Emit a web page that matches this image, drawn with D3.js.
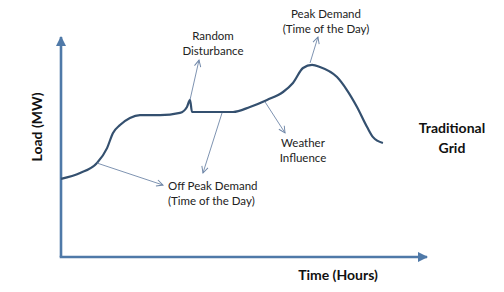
<!DOCTYPE html>
<html>
<head>
<meta charset="utf-8">
<script src="https://cdn.jsdelivr.net/npm/d3@7"></script>
<style>
  body { margin: 0; background: #fff; }
  text { font-family: Lato, "Liberation Sans", sans-serif; }
</style>
</head>
<body>
<svg id="chart" width="504" height="292"></svg>
<script>
// load curve (hours, load in % of axis height)
var hours = [0, 1.25, 2.36, 3.02, 3.41, 3.87, 4.52, 5.18, 6.49, 7.8, 8.26, 8.46, 8.59, 11.28, 12.39, 13.51, 14.56, 15.21, 15.87, 16.46, 16.98, 18.1, 18.75, 19.41, 20.07, 20.46, 21.11];
var load  = [35.5, 38.2, 42.7, 49.5, 56.4, 60, 63.2, 64.5, 64.5, 65.5, 68.2, 71.4, 65.9, 65.9, 68.2, 71.4, 75, 79.1, 85.9, 87.3, 86.4, 81.8, 75.9, 68.2, 59.1, 54.5, 51.8];

// annotation arrows: from a point on the curve to the label
var noteNames = ["Random Disturbance", "Peak Demand", "Weather Influence", "Off Peak Demand", "Off Peak Demand (flat)"];
var noteFrom  = [[8.46, 71.4], [16.33, 88.2], [13.38, 70.5], [2.36, 42.7], [10.56, 65.5]];
var noteTo    = [[9.05, 89.5], [16.85, 100], [14.69, 56.4], [6.69, 32.7], [9.31, 38.2]];

var axisTitles = ["Load (MW)", "Time (Hours)"];
var sideLabel = ["Traditional", "Grid"];

var svg = d3.select("#chart");

var x = d3.scaleLinear().domain([0, 24]).range([61, 427]);
var y = d3.scaleLinear().domain([0, 100]).range([257, 37]);

var defs = svg.append("defs");
defs.append("marker")
  .attr("id", "axisHead")
  .attr("viewBox", "0 0 10 10")
  .attr("refX", 9).attr("refY", 5)
  .attr("markerWidth", 4).attr("markerHeight", 4)
  .attr("markerUnits", "strokeWidth")
  .attr("orient", "auto")
  .append("path")
  .attr("d", "M0,0 L10,5 L0,10 Z")
  .attr("fill", "#4f79a8");

defs.append("marker")
  .attr("id", "noteHead")
  .attr("viewBox", "0 0 10 10")
  .attr("refX", 9).attr("refY", 5)
  .attr("markerWidth", 8).attr("markerHeight", 8)
  .attr("markerUnits", "userSpaceOnUse")
  .attr("orient", "auto")
  .append("path")
  .attr("d", "M1,1 L9,5 L1,9")
  .attr("fill", "none")
  .attr("stroke", "#6f87a8")
  .attr("stroke-width", 1.2);

// axes
svg.append("line")
  .attr("x1", x(0)).attr("y1", y(0))
  .attr("x2", x(0)).attr("y2", y(100))
  .attr("stroke", "#4f79a8").attr("stroke-width", 2.6)
  .attr("marker-end", "url(#axisHead)");
svg.append("line")
  .attr("x1", x(0) - 1.3).attr("y1", y(0))
  .attr("x2", x(24)).attr("y2", y(0))
  .attr("stroke", "#4f79a8").attr("stroke-width", 2.6)
  .attr("marker-end", "url(#axisHead)");

// load curve
var pts = hours.map(function(h, i){ return [h, load[i]]; });
var line = d3.line()
  .x(function(d){ return x(d[0]); })
  .y(function(d){ return y(d[1]); })
  .curve(d3.curveMonotoneX);

svg.append("path")
  .datum(pts)
  .attr("d", line)
  .attr("fill", "none")
  .attr("stroke", "#34506f")
  .attr("stroke-width", 2.2)
  .attr("stroke-linejoin", "round");

// annotation arrows
svg.selectAll("line.note")
  .data(noteNames)
  .enter().append("line")
  .attr("class", "note")
  .attr("x1", function(d, i){ return x(noteFrom[i][0]); })
  .attr("y1", function(d, i){ return y(noteFrom[i][1]); })
  .attr("x2", function(d, i){ return x(noteTo[i][0]); })
  .attr("y2", function(d, i){ return y(noteTo[i][1]); })
  .attr("stroke", "#6f87a8")
  .attr("stroke-width", 0.9)
  .attr("marker-end", "url(#noteHead)");

// annotation labels
var notes = [
  {lines: ["Random", "Disturbance"], x: 213, y: 40, anchor: "middle"},
  {lines: ["Peak Demand", "(Time of the Day)"], x: 326, y: 18, anchor: "middle"},
  {lines: ["Weather", "Influence"], x: 303, y: 147, anchor: "middle"},
  {lines: ["Off Peak Demand", "(Time of the Day)"], x: 168, y: 190, anchor: "start"}
];
notes.forEach(function(n){
  var t = svg.append("text")
    .attr("x", n.x).attr("y", n.y)
    .attr("text-anchor", n.anchor)
    .attr("font-size", 11.5)
    .attr("fill", "#222");
  n.lines.forEach(function(l, i){
    t.append("tspan").attr("x", n.x).attr("dy", i ? 15 : 0).text(l);
  });
});

// side label
var side = svg.append("text")
  .attr("x", 452).attr("y", 133)
  .attr("text-anchor", "middle")
  .attr("font-size", 14)
  .attr("font-weight", "bold")
  .attr("fill", "#111");
sideLabel.forEach(function(l, i){
  side.append("tspan").attr("x", 452).attr("dy", i ? 20 : 0).text(l);
});

// axis titles
svg.append("text")
  .attr("transform", "translate(42,127) rotate(-90)")
  .attr("text-anchor", "middle")
  .attr("font-size", 14)
  .attr("font-weight", "bold")
  .attr("fill", "#111")
  .text(axisTitles[0]);
svg.append("text")
  .attr("x", 338).attr("y", 280)
  .attr("text-anchor", "middle")
  .attr("font-size", 14)
  .attr("font-weight", "bold")
  .attr("fill", "#111")
  .text(axisTitles[1]);
</script>
</body>
</html>
